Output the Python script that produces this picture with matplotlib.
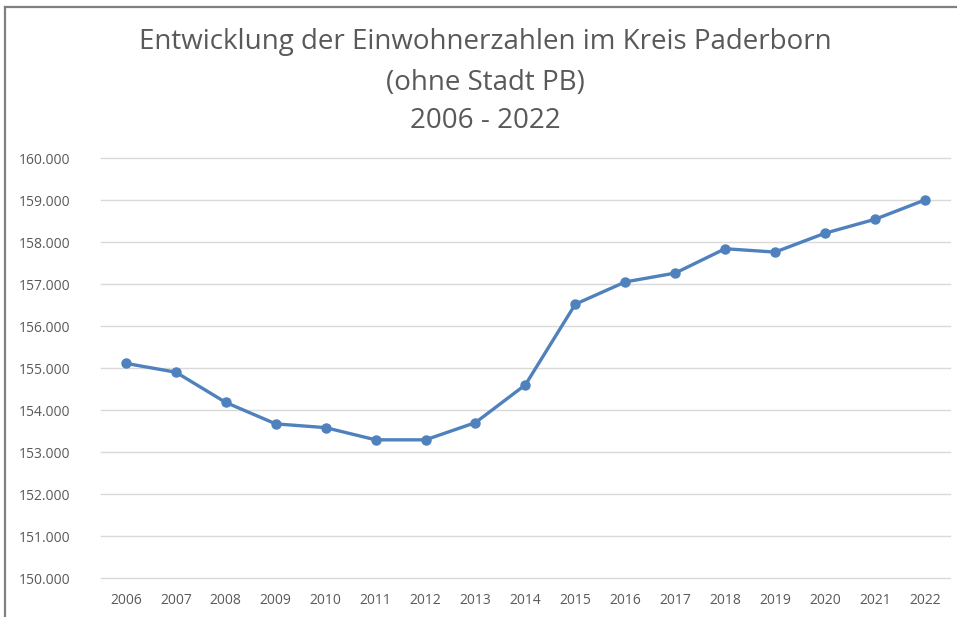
import matplotlib.pyplot as plt
from matplotlib.lines import Line2D
from matplotlib.ticker import FuncFormatter

plt.rcParams['font.family'] = ['Open Sans', 'DejaVu Sans']

# Einwohner Kreis Paderborn ohne Stadt PB, in Tausend
years = list(range(2006, 2023))
residents = [155.11, 154.90, 154.18, 153.67, 153.58, 153.29, 153.29, 153.70,
             154.60, 156.52, 157.05, 157.26, 157.84, 157.76, 158.21, 158.54, 159.00]
title_lines = ["Entwicklung der Einwohnerzahlen im Kreis Paderborn", "(ohne Stadt PB)", "2006 - 2022"]

fig = plt.figure(figsize=(9.57, 6.17), dpi=100)
ax = fig.add_axes([0.1055, 0.0632, 0.887, 0.6807])

x = list(range(len(years)))
ax.plot(x, residents, color='#4F81BD', lw=2.4, marker='o', ms=6.5, solid_capstyle='round')

ax.set_xlim(-0.5, len(years) - 0.5)
ax.set_ylim(150, 160)
ax.set_xticks(x)
ax.set_xticklabels([str(y) for y in years])
ax.set_yticks(range(150, 161))
ax.yaxis.set_major_formatter(FuncFormatter(lambda v, p: f"{int(v)}.000"))
ax.tick_params(length=0, labelsize=10, colors='#595959')
ax.tick_params(axis='y', pad=22)
ax.tick_params(axis='x', pad=11)
for gl in ax.get_ygridlines():
    gl.set_clip_on(False)
ax.grid(axis='y', color='#D9D9D9', lw=1)
ax.set_axisbelow(True)
for s in ax.spines.values():
    s.set_visible(False)

# Titel, dreizeilig
for line, ypix in zip(title_lines, [42, 83, 121]):
    fig.text(485 / 957, 1 - ypix / 617, line, ha='center', va='center', fontsize=20, color='#595959')

# Rahmen oben und links
fig.add_artist(Line2D([4.5 / 957, 4.5 / 957], [0, 1 - 6.5 / 617], color='#808080', lw=1.6))
fig.add_artist(Line2D([4.5 / 957, 1], [1 - 6.5 / 617, 1 - 6.5 / 617], color='#808080', lw=1.6))

fig.savefig('out.png', dpi=100)
